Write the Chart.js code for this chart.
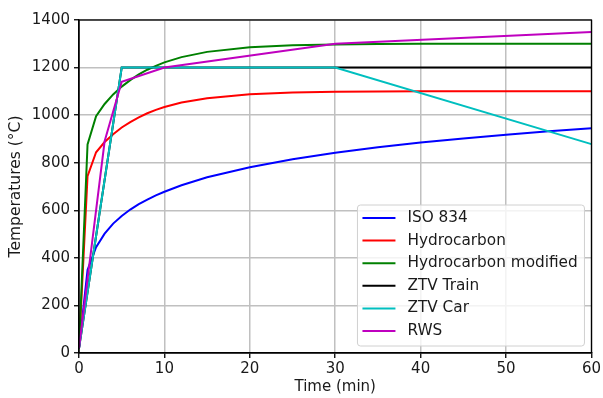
<!DOCTYPE html>
<html>
<head>
<meta charset="utf-8">
<script src="https://cdn.jsdelivr.net/npm/chart.js@4/dist/chart.umd.min.js"></script>
<style>
  html, body { margin: 0; padding: 0; background: #fff; }
  #wrap { width: 603px; height: 398px; }
</style>
</head>
<body>
<div id="wrap"><canvas id="myChart" width="603" height="398"></canvas></div>
<script>
// time in minutes, temperatures in degC
var times = [0, 1, 2, 3, 4, 5, 6, 7, 8, 9, 10, 12, 15, 20, 25, 30, 35, 40, 45, 50, 55, 60];
var iso834 = [20, 349, 445, 502, 544, 576, 603, 626, 645, 663, 678, 705, 739, 781, 815, 842, 865, 885, 902, 918, 932, 945];
var hydrocarbon = [20, 743, 844, 887, 920, 948, 971, 991, 1008, 1022, 1034, 1053, 1071, 1088, 1095, 1098, 1099, 1100, 1100, 1100, 1100, 1100];
var hcModified = [20, 877, 996, 1047, 1087, 1120, 1147, 1171, 1191, 1207, 1222, 1244, 1266, 1285, 1294, 1297, 1299, 1300, 1300, 1300, 1300, 1300];

var ztvTrainTimes = [0, 5, 60];
var ztvTrain = [20, 1200, 1200];
var ztvCarTimes = [0, 5, 30, 60];
var ztvCar = [20, 1200, 1200, 878];
var rwsTimes = [0, 3, 5, 10, 30, 60];
var rws = [20, 890, 1140, 1200, 1300, 1350];

var xTicks = [0, 10, 20, 30, 40, 50, 60];
var yTicks = [0, 200, 400, 600, 800, 1000, 1200, 1400];

function pts(xs, ys) {
  return xs.map(function(x, i) { return {x: x, y: ys[i]}; });
}

// later series are drawn on top, as in the original
function series(label, color, xs, ys, n) {
  return {
    label: label,
    data: pts(xs, ys),
    borderColor: color,
    backgroundColor: color,
    borderWidth: 2,
    pointRadius: 0,
    fill: false,
    order: 10 - n
  };
}

var FONT = '"DejaVu Sans", sans-serif';

// black frame round the plot, like the axes spines
var framePlugin = {
  id: 'frame',
  afterDatasetsDraw: function(chart) {
    var a = chart.chartArea, ctx = chart.ctx;
    ctx.save();
    ctx.strokeStyle = '#000';
    ctx.lineWidth = 1.3;
    ctx.strokeRect(a.left, a.top, a.right - a.left, a.bottom - a.top);
    ctx.restore();
  }
};

// legend box in the lower right corner of the plot
var legendPlugin = {
  id: 'boxLegend',
  afterDraw: function(chart) {
    var a = chart.chartArea, ctx = chart.ctx;
    var sets = chart.data.datasets;
    var w = 227, rowH = 22.6, h = 141;
    var x0 = a.right - 7 - w, y0 = a.bottom - 7 - h;
    ctx.save();
    ctx.beginPath();
    ctx.roundRect(x0, y0, w, h, 3);
    ctx.fillStyle = 'rgba(255,255,255,0.8)';
    ctx.fill();
    ctx.strokeStyle = '#d0d0d0';
    ctx.lineWidth = 1;
    ctx.stroke();
    ctx.font = '15.3px ' + FONT;
    ctx.textBaseline = 'middle';
    ctx.textAlign = 'left';
    sets.forEach(function(ds, i) {
      var y = y0 + 13 + i * rowH;
      ctx.beginPath();
      ctx.moveTo(x0 + 5, y);
      ctx.lineTo(x0 + 38, y);
      ctx.strokeStyle = ds.borderColor;
      ctx.lineWidth = 2;
      ctx.stroke();
      ctx.fillStyle = '#1a1a1a';
      ctx.fillText(ds.label, x0 + 50, y);
    });
    ctx.restore();
  }
};

var ctx = document.getElementById('myChart').getContext('2d');
var chart = new Chart(ctx, {
  type: 'line',
  data: {
    datasets: [
      series('ISO 834', '#0000ff', times, iso834, 0),
      series('Hydrocarbon', '#ff0000', times, hydrocarbon, 1),
      series('Hydrocarbon modified', '#008000', times, hcModified, 2),
      series('ZTV Train', '#000000', ztvTrainTimes, ztvTrain, 3),
      series('ZTV Car', '#00bfbf', ztvCarTimes, ztvCar, 4),
      series('RWS', '#bf00bf', rwsTimes, rws, 5)
    ]
  },
  options: {
    responsive: false,
    animation: false,
    layout: { padding: { top: 20, right: 11, left: 0, bottom: 0 } },
    plugins: {
      legend: { display: false },
      tooltip: { enabled: false }
    },
    scales: {
      x: {
        type: 'linear',
        min: 0,
        max: 60,
        afterBuildTicks: function(s) { s.ticks = xTicks.map(function(v) { return {value: v}; }); },
        afterFit: function(s) { s.height = 45; },
        grid: { color: '#c0c0c0', lineWidth: 1.5, tickColor: '#000', tickLength: 5, tickWidth: 1.3 },
        border: { color: '#000', width: 1.3 },
        ticks: { color: '#1a1a1a', font: { family: FONT, size: 15 }, padding: 2, maxRotation: 0,
                 callback: function(v) { return String(v); } },
        title: { display: true, text: 'Time (min)', color: '#1a1a1a', font: { family: FONT, size: 15 }, padding: { top: 0, bottom: 2 } }
      },
      y: {
        min: 0,
        max: 1400,
        afterBuildTicks: function(s) { s.ticks = yTicks.map(function(v) { return {value: v}; }); },
        afterFit: function(s) { s.width = 79; },
        grid: { color: '#c0c0c0', lineWidth: 1.5, tickColor: '#000', tickLength: 5, tickWidth: 1.3 },
        border: { color: '#000', width: 1.3 },
        ticks: { color: '#1a1a1a', font: { family: FONT, size: 15 }, padding: 4,
                 callback: function(v) { return String(v); } },
        title: { display: true, text: 'Temperatures (°C)', color: '#1a1a1a', font: { family: FONT, size: 15.5 }, padding: { top: 7, bottom: 0 } }
      }
    }
  },
  plugins: [framePlugin, legendPlugin]
});
</script>
</body>
</html>
